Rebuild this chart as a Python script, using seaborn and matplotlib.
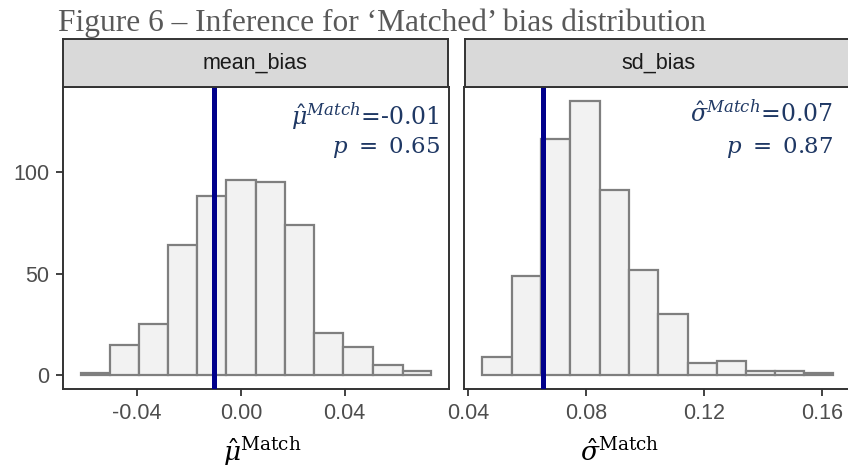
import numpy as np
import pandas as pd
import matplotlib
matplotlib.use("Agg")
import matplotlib.pyplot as plt
import seaborn as sns

# histogram bins and counts
mean_edges = [-0.0618, -0.0506, -0.0394, -0.0283, -0.0170, -0.0059, 0.0058,
              0.0169, 0.0280, 0.0395, 0.0508, 0.0623, 0.0734]
mean_counts = [1, 15, 25, 64, 88, 96, 95, 74, 21, 14, 5, 2]

sd_edges = [0.0446, 0.0547, 0.0646, 0.0745, 0.0845, 0.0944, 0.1044,
            0.1144, 0.1243, 0.1342, 0.1440, 0.1539, 0.1637]
sd_counts = [9, 49, 116, 135, 91, 52, 30, 6, 7, 2, 2, 1]

mean_est = -0.0102
sd_est = 0.0653

panel_names = ["mean_bias", "sd_bias"]
x_ticks = [[-0.04, 0.00, 0.04], [0.04, 0.08, 0.12, 0.16]]
x_ticklabels = [["-0.04", "0.00", "0.04"], ["0.04", "0.08", "0.12", "0.16"]]
y_ticks = [0, 50, 100]
annot_top = [r"$\hat{\mu}^{Match}$=-0.01", r"$\hat{\sigma}^{Match}$=0.07"]
annot_p = [r"$p\ =\ 0.65$", r"$p\ =\ 0.87$"]
x_labels = [r"$\hat{\mu}^{\mathrm{Match}}$", r"$\hat{\sigma}^{\mathrm{Match}}$"]
title = "Figure 6 \u2013 Inference for \u2018Matched\u2019 bias distribution"

sns.set_theme(style="white")
plt.rcParams["font.family"] = ["Liberation Sans", "DejaVu Sans"]
plt.rcParams["mathtext.fontset"] = "dejavuserif"

W, H = 848, 469
fig = plt.figure(figsize=(W / 100, H / 100), dpi=100)


def px_box(x0, x1, y0, y1):
    return [x0 / W, (H - y1) / H, (x1 - x0) / W, (y1 - y0) / H]


panel_x = [(63, 449), (464, 852)]
xlims = [(-0.0686, 0.0802), (0.0386, 0.1700)]
ylims = (-6.75, 141.75)
data = [(mean_edges, mean_counts, mean_est), (sd_edges, sd_counts, sd_est)]
annot_x = [0.977, 0.951]
annot_y1 = [0.874, 0.884]
label_x = [0.516, 0.402]

border = "#333333"
for i in range(2):
    x0, x1 = panel_x[i]
    ax = fig.add_axes(px_box(x0, x1, 87, 389))
    edges, counts, est = data[i]
    e = np.array(edges)
    df = pd.DataFrame({"value": (e[:-1] + e[1:]) / 2, "n": counts})
    sns.histplot(data=df, x="value", weights="n", bins=list(edges), ax=ax,
                 color="#F2F2F2", edgecolor="#7F7F7F", linewidth=1.6, alpha=1)
    ax.axvline(est, color="#00008B", linewidth=3.6, zorder=5)
    ax.set_xlim(*xlims[i])
    ax.set_ylim(*ylims)
    ax.set_xticks(x_ticks[i])
    ax.set_xticklabels(x_ticklabels[i])
    ax.set_yticks(y_ticks)
    if i == 0:
        ax.set_yticklabels([str(v) for v in y_ticks])
        ax.tick_params(axis="y", length=5, width=1.3, color=border, pad=5,
                       labelsize=15.5, labelcolor="#4D4D4D", left=True)
    else:
        ax.tick_params(axis="y", left=False, labelleft=False)
    ax.tick_params(axis="x", length=5, width=1.3, color=border, pad=5,
                   labelsize=15.5, labelcolor="#4D4D4D", bottom=True)
    ax.set_xlabel("")
    ax.set_ylabel("")
    for s in ax.spines.values():
        s.set_color(border)
        s.set_linewidth(1.4)
        s.set_visible(True)

    ax.text(annot_x[i], annot_y1[i], annot_top[i], transform=ax.transAxes,
            ha="right", va="baseline", fontsize=17, color="#1F3864",
            family="DejaVu Serif")
    ax.text(annot_x[i], 0.781, annot_p[i], transform=ax.transAxes,
            ha="right", va="baseline", fontsize=16.5, color="#1F3864",
            family="DejaVu Serif")
    ax.text(label_x[i], -0.24, x_labels[i], transform=ax.transAxes,
            ha="center", va="baseline", fontsize=19, color="black")

    # facet strip
    sx0 = x0 if i == 0 else 465
    sx1 = 448 if i == 0 else 852
    strip = fig.add_axes(px_box(sx0, sx1, 39, 87))
    strip.set_facecolor("#D9D9D9")
    strip.set_xticks([])
    strip.set_yticks([])
    for s in strip.spines.values():
        s.set_color(border)
        s.set_linewidth(1.4)
        s.set_visible(True)
    strip.text(0.5, 0.5, panel_names[i], transform=strip.transAxes,
               ha="center", va="center", fontsize=15.5, color="#1A1A1A")

fig.text(58 / W, (H - 31) / H, title, ha="left", va="baseline",
         fontsize=22.6, color="#595959", family="Liberation Serif")

fig.savefig("out.png", dpi=100)
